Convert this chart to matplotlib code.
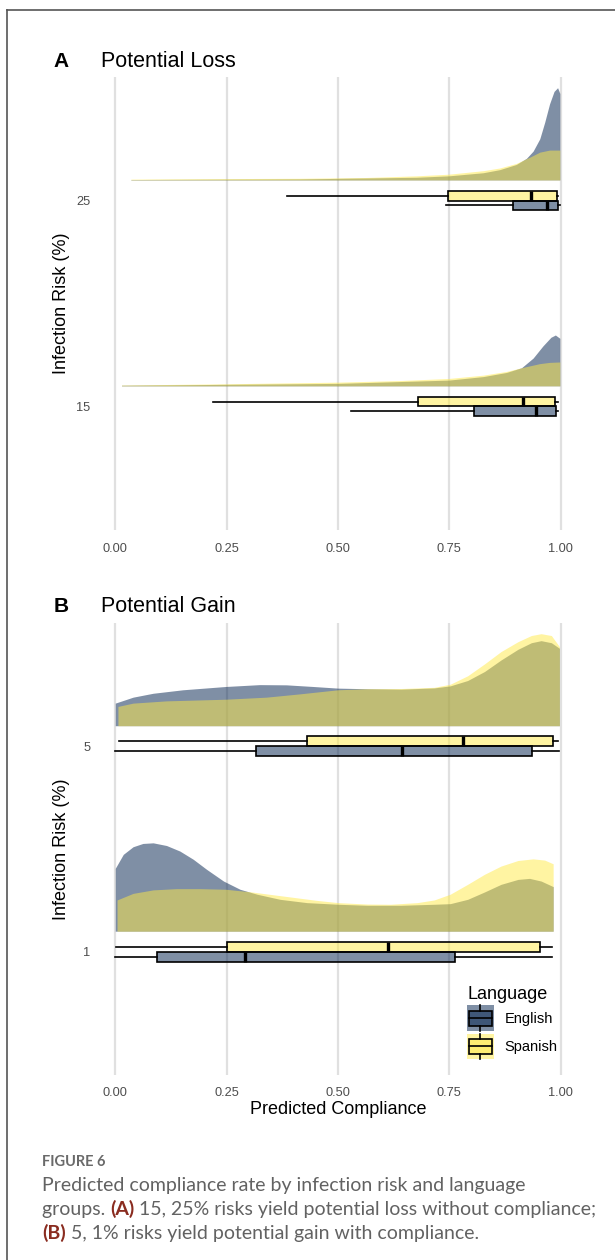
import matplotlib
matplotlib.use("Agg")
import matplotlib.pyplot as plt
from matplotlib.patches import Patch, Rectangle
from matplotlib.lines import Line2D
from matplotlib.legend_handler import HandlerBase

plt.rcParams['font.family'] = ['Liberation Sans', 'DejaVu Sans']

# ---- datos ----
X_TICKS = [0, 0.25, 0.5, 0.75, 1.0]
X_TICK_LABELS = ['0.00', '0.25', '0.50', '0.75', '1.00']
RIESGOS_A = ['15', '25']
RIESGOS_B = ['1', '5']
IDIOMAS = ['English', 'Spanish']

# densidades (x, altura en unidades de categoria)
a15_en_x = [0.014, 0.5, 0.749, 0.826, 0.878, 0.912, 0.938, 0.96, 0.978, 0.988, 0.998]
a15_en_h = [0.003, 0.012, 0.028, 0.045, 0.065, 0.088, 0.135, 0.194, 0.236, 0.247, 0.231]
a15_es_x = [0.014, 0.248, 0.5, 0.641, 0.749, 0.826, 0.878, 0.916, 0.953, 0.975, 0.998]
a15_es_h = [0.004, 0.010, 0.018, 0.026, 0.036, 0.052, 0.070, 0.090, 0.108, 0.114, 0.116]

a25_en_x = [0.035, 0.414, 0.676, 0.749, 0.826, 0.863, 0.9, 0.923, 0.938, 0.953, 0.964, 0.975, 0.985, 0.993, 0.998]
a25_en_h = [0.002, 0.005, 0.013, 0.020, 0.035, 0.050, 0.075, 0.105, 0.140, 0.200, 0.280, 0.370, 0.430, 0.448, 0.420]
a25_es_x = [0.035, 0.19, 0.414, 0.564, 0.676, 0.749, 0.826, 0.863, 0.9, 0.93, 0.953, 0.975, 0.998]
a25_es_h = [0.004, 0.006, 0.008, 0.012, 0.020, 0.028, 0.045, 0.058, 0.080, 0.110, 0.135, 0.145, 0.145]

b1_en_x = [0.0, 0.018, 0.04, 0.062, 0.085, 0.115, 0.145, 0.175, 0.205, 0.243, 0.28, 0.318, 0.37,
           0.43, 0.5, 0.566, 0.641, 0.716, 0.752, 0.791, 0.829, 0.866, 0.904, 0.93, 0.956, 0.983]
b1_en_h = [0.306, 0.374, 0.411, 0.427, 0.430, 0.417, 0.390, 0.350, 0.301, 0.244, 0.204, 0.180, 0.155,
           0.139, 0.131, 0.126, 0.126, 0.131, 0.134, 0.155, 0.191, 0.228, 0.252, 0.257, 0.244, 0.217]
b1_es_x = [0.004, 0.04, 0.085, 0.137, 0.19, 0.248, 0.302, 0.377, 0.452, 0.5, 0.566, 0.618, 0.678,
           0.716, 0.752, 0.791, 0.829, 0.866, 0.904, 0.938, 0.964, 0.983]
b1_es_h = [0.152, 0.184, 0.201, 0.207, 0.207, 0.204, 0.192, 0.171, 0.150, 0.139, 0.132, 0.131, 0.139,
           0.152, 0.180, 0.228, 0.277, 0.317, 0.344, 0.352, 0.346, 0.328]

b5_en_x = [0.0, 0.04, 0.085, 0.152, 0.248, 0.324, 0.384, 0.444, 0.5, 0.566, 0.641, 0.716, 0.752,
           0.791, 0.829, 0.866, 0.904, 0.934, 0.956, 0.979, 0.997]
b5_en_h = [0.110, 0.139, 0.158, 0.175, 0.191, 0.200, 0.199, 0.191, 0.183, 0.180, 0.178, 0.184, 0.194,
           0.220, 0.264, 0.320, 0.372, 0.404, 0.414, 0.404, 0.377]
b5_es_x = [0.006, 0.04, 0.115, 0.248, 0.339, 0.414, 0.5, 0.566, 0.641, 0.716, 0.752, 0.791, 0.829,
           0.866, 0.904, 0.934, 0.956, 0.979, 0.997]
b5_es_h = [0.094, 0.110, 0.121, 0.129, 0.139, 0.155, 0.175, 0.180, 0.181, 0.187, 0.202, 0.243, 0.301,
           0.361, 0.409, 0.439, 0.448, 0.439, 0.385]

# boxplots: [whislo, q1, med, q3, whishi]
box_a15_en = [0.529, 0.805, 0.944, 0.989, 0.993]
box_a15_es = [0.219, 0.679, 0.915, 0.987, 0.993]
box_a25_en = [0.742, 0.892, 0.969, 0.993, 0.998]
box_a25_es = [0.385, 0.746, 0.933, 0.991, 0.993]
box_b1_en = [0.0, 0.093, 0.291, 0.762, 0.980]
box_b1_es = [0.001, 0.250, 0.612, 0.953, 0.980]
box_b5_en = [0.0, 0.315, 0.643, 0.935, 0.995]
box_b5_es = [0.008, 0.430, 0.780, 0.982, 0.993]

COLOR_EN = '#00204D'
COLOR_ES = '#FFEA46'
ALPHA = 0.5


def stats(v):
    return {'whislo': v[0], 'q1': v[1], 'med': v[2], 'q3': v[3], 'whishi': v[4], 'fliers': []}


def dibujar_panel(ax, riesgos, dens_en, dens_es, cajas_en, cajas_es):
    for i in range(len(riesgos)):
        base = i + 1 + 0.1
        xe, he = dens_en[i]
        xs, hs = dens_es[i]
        ax.fill_between(xe, base, [base + h for h in he], color=COLOR_EN, alpha=ALPHA, lw=0, zorder=2)
        ax.fill_between(xs, base, [base + h for h in hs], color=COLOR_ES, alpha=ALPHA, lw=0, zorder=2)

    for cajas, color, off in [(cajas_es, COLOR_ES, 0.024), (cajas_en, COLOR_EN, -0.024)]:
        pos = [i + 1 + off for i in range(len(riesgos))]
        bp = ax.bxp([stats(c) for c in cajas], positions=pos, widths=0.048,
                    orientation='horizontal', patch_artist=True, showcaps=False,
                    showfliers=False, manage_ticks=False,
                    boxprops=dict(facecolor=matplotlib.colors.to_rgba(color, ALPHA),
                                  edgecolor='black', linewidth=1.2),
                    whiskerprops=dict(color='black', linewidth=1.2),
                    medianprops=dict(color='black', linewidth=2.4, solid_capstyle='butt'))
        for art in bp['boxes'] + bp['whiskers'] + bp['medians']:
            art.set_zorder(3)

    ax.set_xlim(-0.05, 1.05)
    ax.set_ylim(0.4, 2.6)
    ax.set_xticks(X_TICKS)
    ax.set_xticklabels(X_TICK_LABELS)
    ax.set_yticks([1, 2])
    ax.set_yticklabels(riesgos)
    ax.tick_params(length=0, labelsize=9.2, labelcolor='#4d4d4d')
    ax.tick_params(axis='x', pad=9)
    ax.tick_params(axis='y', pad=2)
    ax.grid(axis='x', color='#e0e0e0', linewidth=1.6)
    ax.set_axisbelow(True)
    for s in ax.spines.values():
        s.set_visible(False)


class CajaLeyenda(HandlerBase):
    def create_artists(self, legend, orig_handle, xdescent, ydescent, width, height, fontsize, trans):
        col = orig_handle.get_facecolor()
        x0, y0 = -xdescent, -ydescent
        fondo = Rectangle((x0, y0), width, height, facecolor=col, edgecolor='none', transform=trans)
        caja = Rectangle((x0 + 0.06 * width, y0 + 0.2 * height), 0.88 * width, 0.6 * height,
                         facecolor=col, edgecolor='black', lw=1.2, transform=trans)
        med = Line2D([x0 + 0.06 * width, x0 + 0.94 * width], [y0 + 0.5 * height] * 2,
                     color='black', lw=1.2, transform=trans)
        w1 = Line2D([x0 + width / 2] * 2, [y0, y0 + 0.2 * height], color='black', lw=1.2, transform=trans)
        w2 = Line2D([x0 + width / 2] * 2, [y0 + 0.8 * height, y0 + height], color='black', lw=1.2, transform=trans)
        return [fondo, caja, med, w1, w2]


W, H = 615, 1260
fig = plt.figure(figsize=(W / 100, H / 100), dpi=100)

ax_a = fig.add_axes([93 / W, 1 - 530 / H, 490 / W, 453 / H])
ax_b = fig.add_axes([93 / W, 1 - 1075 / H, 490 / W, 452 / H])

dibujar_panel(ax_a, RIESGOS_A,
              [(a15_en_x, a15_en_h), (a25_en_x, a25_en_h)],
              [(a15_es_x, a15_es_h), (a25_es_x, a25_es_h)],
              [box_a15_en, box_a25_en], [box_a15_es, box_a25_es])
dibujar_panel(ax_b, RIESGOS_B,
              [(b1_en_x, b1_en_h), (b5_en_x, b5_en_h)],
              [(b1_es_x, b1_es_h), (b5_es_x, b5_es_h)],
              [box_b1_en, box_b5_en], [box_b1_es, box_b5_es])

ax_b.set_xlabel('Predicted Compliance', fontsize=13, labelpad=1)

# titulos de panel y etiquetas del eje y
for letra, titulo, yb in [('A', 'Potential Loss', 67), ('B', 'Potential Gain', 612)]:
    fig.text(61 / W, 1 - yb / H, letra, fontsize=15, fontweight='bold', ha='center', va='baseline')
    fig.text(101 / W, 1 - yb / H, titulo, fontsize=15.5, ha='left', va='baseline')

for yc in [(77 + 530) / 2, (623 + 1075) / 2]:
    fig.text(62 / W, 1 - yc / H, 'Infection Risk (%)', fontsize=13, rotation=90,
             ha='center', va='center')

# leyenda
handles = [Patch(facecolor=matplotlib.colors.to_rgba(COLOR_EN, ALPHA)),
           Patch(facecolor=matplotlib.colors.to_rgba(COLOR_ES, ALPHA))]
ax_b.legend(handles, IDIOMAS, title='Language', loc='upper left',
            bbox_to_anchor=(460 / W, 1 - 979 / H), bbox_transform=fig.transFigure,
            frameon=False, fontsize=10.5, title_fontsize=13, handlelength=1.8,
            handleheight=2.35, labelspacing=0.15, handletextpad=0.75, borderpad=0,
            alignment='left', handler_map={Patch: CajaLeyenda()})

# marco
fig.add_artist(Line2D([7 / W, 1], [1 - 10 / H] * 2, transform=fig.transFigure, color='#555555', lw=1.2))
fig.add_artist(Line2D([7 / W] * 2, [1 - 10 / H, 0], transform=fig.transFigure, color='#555555', lw=1.2))

# pie de figura
CAP = dict(family=['Lato', 'DejaVu Sans'], fontsize=14, color='#626262', fontweight='normal')
fig.text(42 / W, 1 - 1166 / H, 'FIGURE 6', family=['Lato', 'DejaVu Sans'], fontsize=10.5,
         fontweight='bold', color='#6a6a6a', va='baseline')
fig.text(42 / W, 1 - 1191 / H, 'Predicted compliance rate by infection risk and language', va='baseline', **CAP)

renderer = fig.canvas.get_renderer()


def linea_mixta(partes, y):
    x = 42
    for texto, negrita in partes:
        props = dict(CAP)
        if negrita:
            props['fontweight'] = 'bold'
            props['color'] = '#8a2c20'
        t = fig.text(x / W, 1 - y / H, texto, va='baseline', **props)
        x += t.get_window_extent(renderer).width


linea_mixta([('groups. ', False), ('(A)', True),
             (' 15, 25% risks yield potential loss without compliance;', False)], 1215)
linea_mixta([('(B)', True), (' 5, 1% risks yield potential gain with compliance.', False)], 1239)

fig.savefig('out.png', dpi=100)
